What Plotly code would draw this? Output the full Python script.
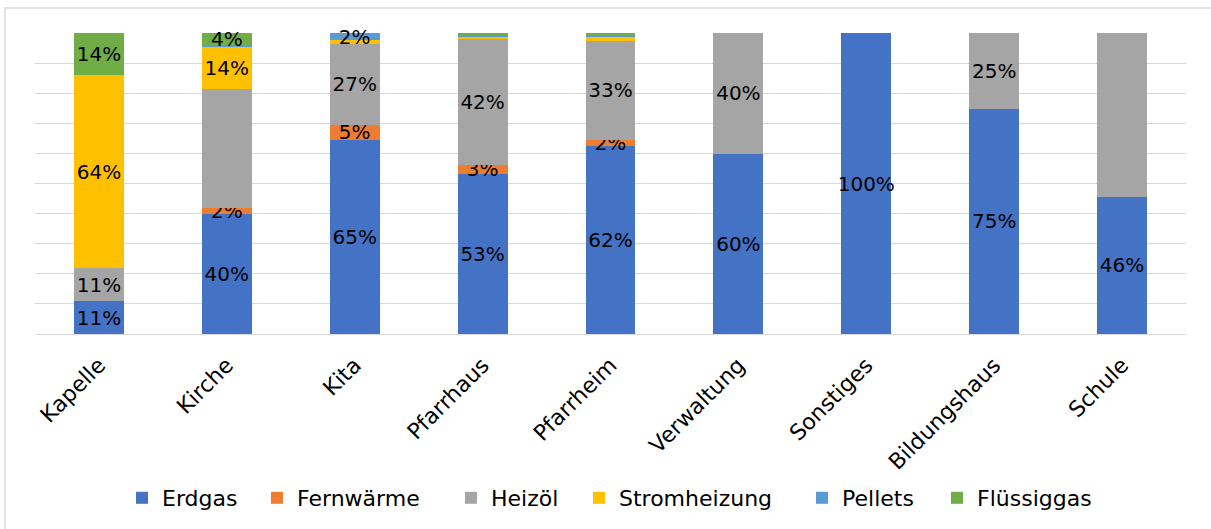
import plotly.graph_objects as go

categories = ["Kapelle", "Kirche", "Kita", "Pfarrhaus", "Pfarrheim",
              "Verwaltung", "Sonstiges", "Bildungshaus", "Schule"]

erdgas      = [10.8, 39.8, 64.6, 53.2, 62.4, 59.9, 100.0, 74.8, 45.6]
fernwaerme  = [0.0, 2.2, 4.7, 3.0, 2.0, 0.0, 0.0, 0.0, 0.0]
heizoel     = [11.0, 39.3, 27.2, 42.0, 33.0, 40.1, 0.0, 25.2, 54.4]
stromheizung = [64.2, 14.0, 1.1, 0.5, 1.3, 0.0, 0.0, 0.0, 0.0]
pellets     = [0.0, 0.7, 2.4, 0.3, 0.7, 0.0, 0.0, 0.0, 0.0]
fluessiggas = [14.0, 4.0, 0.0, 1.0, 0.6, 0.0, 0.0, 0.0, 0.0]

# which segments carry a data label (1 = labelled)
show_erdgas  = [1, 1, 1, 1, 1, 1, 1, 1, 1]
show_fern    = [0, 1, 1, 1, 1, 0, 0, 0, 0]
show_heizoel = [1, 0, 1, 1, 1, 1, 0, 1, 0]
show_strom   = [1, 1, 0, 0, 0, 0, 0, 0, 0]
show_pellets = [0, 0, 1, 0, 0, 0, 0, 0, 0]
show_fluess  = [1, 1, 0, 0, 0, 0, 0, 0, 0]

series = [
    ("Erdgas", erdgas, show_erdgas, "#4472C4"),
    ("Fernwärme", fernwaerme, show_fern, "#ED7D31"),
    ("Heizöl", heizoel, show_heizoel, "#A5A5A5"),
    ("Stromheizung", stromheizung, show_strom, "#FFC000"),
    ("Pellets", pellets, show_pellets, "#5B9BD5"),
    ("Flüssiggas", fluessiggas, show_fluess, "#70AD47"),
]

FONT = "DejaVu Sans"

# layout geometry (pixels)
W, H = 1211, 529
ML, MR, MT, MB = 35, 25, 33, 194
PW, PH = W - ML - MR, H - MT - MB
legend_text_x = [162, 297, 491, 619, 842, 977]   # where each legend label starts
legend_y_px = 498

fig = go.Figure()
legends = {}
for i, (name, vals, show, color) in enumerate(series):
    key = "legend" if i == 0 else f"legend{i + 1}"
    fig.add_trace(go.Bar(
        name=name,
        x=categories,
        y=[v / 100 for v in vals],
        marker=dict(color=color, line=dict(width=0)),
        text=[f"{round(v)}%" if s else "" for v, s in zip(vals, show)],
        textposition="inside",
        insidetextanchor="middle",
        textangle=0,
        textfont=dict(family=FONT, size=20, color="black"),
        cliponaxis=False,
        hoverinfo="skip",
        legend=key,
    ))
    legends[key] = dict(
        orientation="h",
        x=(legend_text_x[i] - 40 - ML) / PW, xanchor="left",
        y=(MT + PH - legend_y_px) / PH, yanchor="middle",
        font=dict(family=FONT, size=22, color="black"),
        bgcolor="rgba(0,0,0,0)",
        borderwidth=0,
        itemwidth=30,
    )

fig.update_layout(
    barmode="stack",
    bargap=0.61,
    width=W,
    height=H,
    margin=dict(l=ML, r=MR, t=MT, b=MB),
    paper_bgcolor="white",
    plot_bgcolor="white",
    font=dict(family=FONT, size=20, color="black"),
    uniformtext=dict(minsize=20, mode="show"),
    showlegend=True,
    xaxis=dict(
        tickangle=-45,
        tickfont=dict(family=FONT, size=22, color="black"),
        ticklabelstandoff=13,
        showline=False,
        showgrid=False,
        ticks="",
        automargin=False,
    ),
    yaxis=dict(
        range=[0, 1],
        dtick=0.1,
        showticklabels=False,
        showgrid=True,
        gridcolor="#D9D9D9",
        gridwidth=1,
        zeroline=True,
        zerolinecolor="#D9D9D9",
        zerolinewidth=1,
        ticks="",
        automargin=False,
    ),
    shapes=[dict(
        type="rect", xref="paper", yref="paper",
        x0=(5 - ML) / PW, x1=1.05, y0=-0.75, y1=(MT + PH - 8) / PH,
        line=dict(color="#D9D9D9", width=1.5),
        fillcolor="rgba(0,0,0,0)", layer="below",
    )],
    **legends,
)

fig.write_html("out.html", config={"displayModeBar": False},
               post_script="document.body.style.margin='0';")
